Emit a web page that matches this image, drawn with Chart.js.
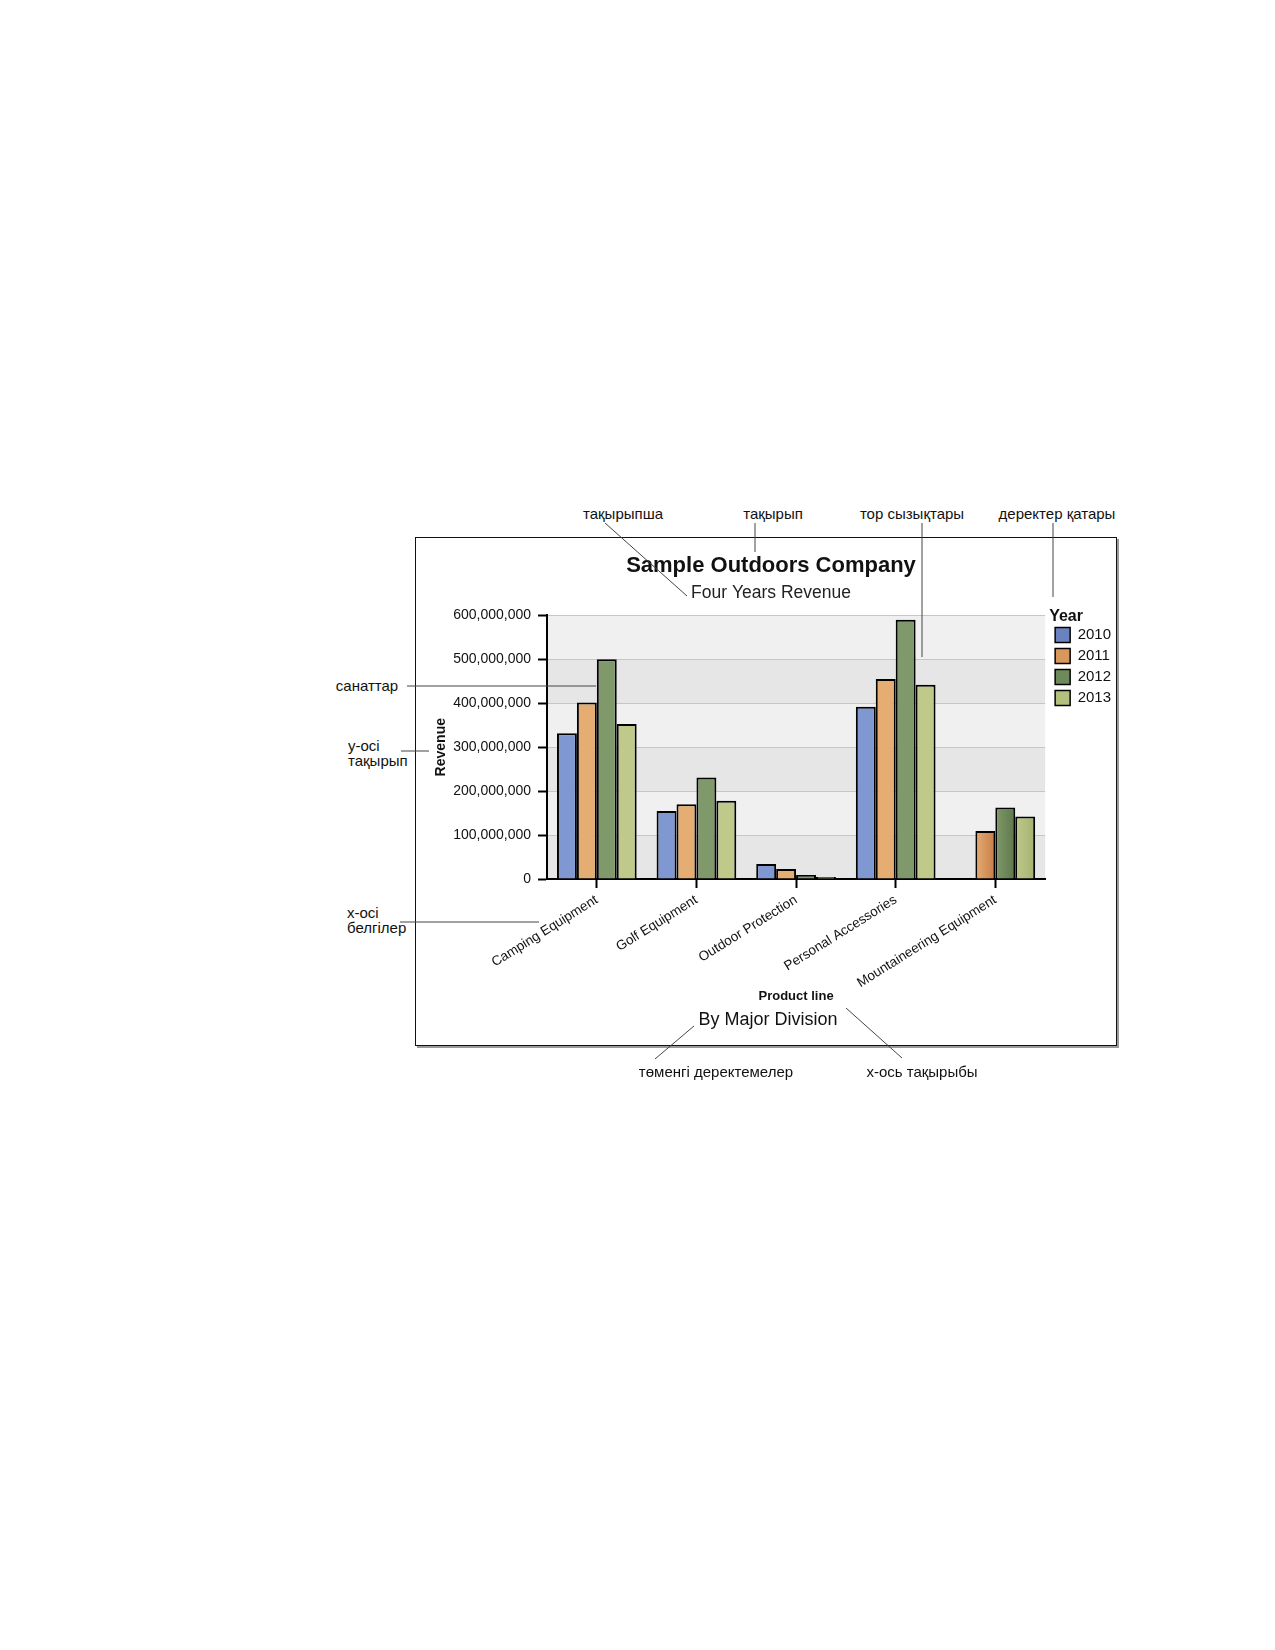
<!DOCTYPE html>
<html>
<head>
<meta charset="utf-8">
<title>Sample Outdoors Company</title>
<script src="https://cdn.jsdelivr.net/npm/chart.js@4/dist/chart.umd.min.js"></script>
<style>
  body { margin: 0; background: #fff; font-family: "Liberation Sans", Arial, sans-serif; }
  #page { position: relative; width: 1275px; height: 1650px; }
  #frame { position: absolute; left: 415px; top: 537px; width: 702px; height: 509px;
           box-sizing: border-box; border: 1.5px solid #111; box-shadow: 2px 2px 0 #9a9a9a; }
  #chart { position: absolute; left: 415px; top: 537px; }
  .note { position: absolute; font-size: 15px; color: #111; white-space: nowrap; transform: translate(-50%, -50%); }
  .note-left { position: absolute; font-size: 15px; color: #111; white-space: nowrap; line-height: 15px; }
  #footer { position: absolute; left: 768px; top: 1019px; font-size: 18px; color: #111;
            transform: translate(-50%, -50%); white-space: nowrap; }
  #leaders { position: absolute; left: 0; top: 0; pointer-events: none; }
</style>
</head>
<body>
<div id="page">
  <div id="frame"></div>
  <canvas id="chart" width="702" height="508"></canvas>
  <div id="footer">By Major Division</div>

  <div class="note" style="left:623px; top:513px">тақырыпша</div>
  <div class="note" style="left:773px; top:513px">тақырып</div>
  <div class="note" style="left:912px; top:513px">тор сызықтары</div>
  <div class="note" style="left:1057px; top:513px">деректер қатары</div>
  <div class="note" style="left:367px; top:685px">санаттар</div>
  <div class="note-left" style="left:348px; top:738px">y-осі<br>тақырып</div>
  <div class="note-left" style="left:347px; top:905px">x-осі<br>белгілер</div>
  <div class="note" style="left:716px; top:1071px">төменгі деректемелер</div>
  <div class="note" style="left:922px; top:1071px">x-ось тақырыбы</div>

  <svg id="leaders" width="1275" height="1650">
    <g stroke="#444" stroke-width="1">
      <line x1="605" y1="523" x2="687" y2="596"/>
      <line x1="755" y1="523" x2="755" y2="552"/>
      <line x1="922" y1="523" x2="922" y2="657"/>
      <line x1="1053" y1="523" x2="1053" y2="597"/>
      <line x1="407" y1="686" x2="596" y2="686"/>
      <line x1="401" y1="751" x2="429" y2="751"/>
      <line x1="400" y1="922" x2="539" y2="922"/>
      <line x1="655" y1="1059" x2="694" y2="1026"/>
      <line x1="902" y1="1058" x2="846" y2="1008"/>
    </g>
  </svg>
</div>

<script>
// values
const categories = ['Camping Equipment', 'Golf Equipment', 'Outdoor Protection', 'Personal Accessories', 'Mountaineering Equipment'];
const years = ['2010', '2011', '2012', '2013'];
const revenue2010 = [332000000, 155000000, 34000000, 392000000, null];
const revenue2011 = [402000000, 170000000, 23000000, 455000000, 109000000];
const revenue2012 = [500000000, 231000000, 9000000, 590000000, 163000000];
const revenue2013 = [353000000, 178000000, 4500000, 442000000, 142000000];
const yMax = 600000000;
const yStep = 100000000;

const midColors = ['#6a83c0', '#d8975c', '#6f8a5a', '#b2bf7d'];
const lightColors = ['#7f98d2', '#e6ad72', '#80996a', '#bfca8a'];
const darkColors = ['#5670ad', '#c67d47', '#5f784b', '#a4b170'];

Chart.defaults.font.family = '"Liberation Sans", Arial, sans-serif';
Chart.defaults.color = '#111';

// alternating grey bands behind the grid
const bands = {
  id: 'bands',
  beforeDraw(chart) {
    const { ctx, chartArea, scales } = chart;
    const y = scales.y;
    ctx.save();
    for (let v = 0, i = 0; v < yMax; v += yStep, i++) {
      const top = y.getPixelForValue(v + yStep);
      const bottom = y.getPixelForValue(v);
      ctx.fillStyle = i % 2 === 0 ? '#e6e6e6' : '#f0f0f0';
      ctx.fillRect(chartArea.left, top, chartArea.right - chartArea.left, bottom - top);
    }
    ctx.restore();
  }
};

// light-to-dark shading across each bar
const shadedBars = {
  id: 'shadedBars',
  beforeDatasetsDraw(chart) {
    const ctx = chart.ctx;
    chart.data.datasets.forEach((ds, i) => {
      chart.getDatasetMeta(i).data.forEach(bar => {
        const left = bar.x - bar.width / 2;
        const g = ctx.createLinearGradient(left, 0, left + bar.width, 0);
        g.addColorStop(0, lightColors[i]);
        g.addColorStop(1, darkColors[i]);
        bar.options.backgroundColor = g;
      });
    });
  }
};

// legend sits a little higher and further right than chart.js puts it
const nudgeLegend = {
  id: 'nudgeLegend',
  afterLayout(chart) {
    const lg = chart.legend;
    lg.left += 4; lg.right += 4;
    lg.top -= 7; lg.bottom -= 7;
  }
};

const series = [revenue2010, revenue2011, revenue2012, revenue2013];

new Chart(document.getElementById('chart'), {
  type: 'bar',
  data: {
    labels: categories,
    datasets: years.map((yr, i) => ({
      label: yr,
      data: series[i],
      backgroundColor: midColors[i],
      borderColor: '#000',
      borderWidth: { top: 2, left: 2, right: 2, bottom: 0 },
      categoryPercentage: 0.8,
      barPercentage: 1.0
    }))
  },
  options: {
    responsive: false,
    animation: false,
    layout: { padding: { left: 10, right: 0, top: 0, bottom: 39 } },
    plugins: {
      title: {
        display: true,
        text: 'Sample Outdoors Company',
        font: { size: 22, weight: 'bold' },
        color: '#111',
        padding: { top: 16, bottom: 3 }
      },
      subtitle: {
        display: true,
        text: 'Four Years Revenue',
        font: { size: 17.5 },
        color: '#222',
        padding: { top: 0, bottom: 12 }
      },
      legend: {
        position: 'right',
        align: 'start',
        fullSize: false,
        title: {
          display: true,
          text: 'Year',
          position: 'start',
          font: { size: 16, weight: 'bold' },
          color: '#111',
          padding: { top: 0, bottom: -6 }
        },
        labels: {
          boxWidth: 15,
          boxHeight: 15,
          padding: 6,
          font: { size: 15 },
          color: '#111'
        }
      },
      tooltip: { enabled: false }
    },
    scales: {
      x: {
        grid: { drawOnChartArea: false, drawTicks: true, tickLength: 9, tickColor: '#000', tickWidth: 2, offset: false },
        border: { color: '#000', width: 2 },
        ticks: { minRotation: 32, maxRotation: 32, autoSkip: false, font: { size: 13.5 }, color: '#111', padding: 4 },
        title: {
          display: true,
          text: 'Product line',
          font: { size: 13, weight: 'bold' },
          color: '#111',
          padding: { top: 4, bottom: 2 }
        },
        afterFit(scale) { scale.height = 127; }
      },
      y: {
        min: 0,
        max: yMax,
        ticks: {
          stepSize: yStep,
          font: { size: 14 },
          color: '#111',
          padding: 7,
          callback: v => v.toLocaleString('en-US')
        },
        grid: { color: '#c6c6c6', lineWidth: 1, tickLength: 9, tickColor: '#000', tickWidth: 2 },
        border: { color: '#000', width: 2 },
        title: {
          display: true,
          text: 'Revenue',
          font: { size: 14, weight: 'bold' },
          color: '#111',
          padding: { top: 8, bottom: 0 }
        },
        afterFit(scale) { scale.width = 122; }
      }
    }
  },
  plugins: [bands, shadedBars, nudgeLegend]
});
</script>
</body>
</html>
